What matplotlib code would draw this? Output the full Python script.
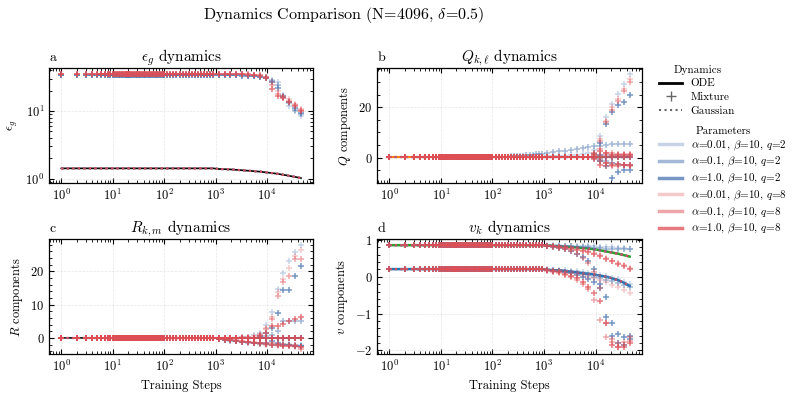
import numpy as np
import matplotlib
matplotlib.use('Agg')
import matplotlib.pyplot as plt
from matplotlib.lines import Line2D
from matplotlib.ticker import AutoMinorLocator

plt.rcParams['font.family'] = 'serif'
plt.rcParams['font.serif'] = ['cmr10']
plt.rcParams['mathtext.fontset'] = 'cm'
plt.rcParams['axes.formatter.use_mathtext'] = True

# training steps where the dynamics were recorded
early_steps = [1, 2, 3, 4, 5, 6, 7, 8, 9, 10, 11, 12, 13, 14, 15, 16, 17, 18, 19, 20,
               21, 22, 24, 26, 28, 30, 32, 34, 37, 40, 43, 46, 50, 54, 58, 63, 68, 74,
               80, 86, 93, 100, 115, 132, 151, 174, 200, 229, 263, 302, 347, 398, 457,
               525, 603, 692, 794, 912]
late_steps = [1150, 1500, 1950, 2540, 3300, 4300, 5600, 7300, 9500, 12400, 16100,
              20900, 27200, 35400, 46000]
steps = early_steps + late_steps


def track(level, late=()):
    # flat part, followed by the values at the last steps
    late = list(late)
    return np.array([level] * (len(steps) - len(late)) + late)


param_labels = [r'$\alpha$=0.01, $\beta$=10, $q$=2', r'$\alpha$=0.1, $\beta$=10, $q$=2',
                r'$\alpha$=1.0, $\beta$=10, $q$=2', r'$\alpha$=0.01, $\beta$=10, $q$=8',
                r'$\alpha$=0.1, $\beta$=10, $q$=8', r'$\alpha$=1.0, $\beta$=10, $q$=8']
param_colors = ['#4873B0'] * 3 + ['#DE4E55'] * 3
param_alphas = [0.3, 0.5, 0.75] * 2

# ---- a: generalisation error
eps_ode = track(1.42, [1.39, 1.38, 1.37, 1.35, 1.33, 1.31, 1.29, 1.27, 1.24, 1.21, 1.18,
                       1.14, 1.10, 1.06, 1.02])
eps_mix = [
    track(34.5, [34.5, 34.4, 34.3, 34.2, 34, 33.8, 33.4, 32.8, 31.5, 29, 27, 17.5, 12, 10, 8.5]),
    track(34.3, [34.3, 34.2, 34.1, 34, 33.8, 33.5, 33.2, 32.5, 31, 28, 24, 16.5, 13, 10.5, 9]),
    track(34.0, [34, 34, 33.9, 33.8, 33.6, 33.3, 33, 32.3, 30.5, 27, 22, 16, 13.5, 11, 9.5]),
    track(36.0, [36, 35.9, 35.8, 35.7, 35.5, 35.2, 34.8, 34, 32, 27, 20, 16.8, 15, 12.7, 10.6]),
    track(35.8, [35.8, 35.7, 35.6, 35.5, 35.3, 35, 34.6, 33.8, 31.5, 24, 18, 16, 14, 12.5, 10.3]),
    track(35.6, [35.6, 35.5, 35.4, 35.3, 35.1, 34.8, 34.4, 33.6, 31, 21, 17, 15.5, 13.5, 12, 10]),
]

# ---- b: Q components (three per parameter set)
q_ode = track(0.3)
q_mix = [
    [track(0.5, [0.6, 0.7, 0.8, 0.9, 1.0, 1.2, 1.5, 2.0, 3.0, 8.7, 16.3, 21.3, 25.3, 29.3, 33.3]),
     track(0.5, [0.8, 1.0, 1.2, 1.2, 1.3, 1.3]),
     track(0.5, [0.3, -1.3, -2.0, -2.0, -2.7, -3.0, -3.0])],
    [track(0.5, [0.6, 0.65, 0.7, 0.8, 0.9, 1.0, 1.1, 1.2, 1.35, 1.5, 1.7, 1.9, 2.2, 2.5,
                 2.8, 3.1, 3.5, 3.9, 4.2, 4.5, 4.8, 5.1, 5.3, 5.4, 5.5, 5.6]),
     track(0.5),
     track(0.5, [0.2, -0.3, -1.3, -2.0, -2.5, -2.7, -3.0])],
    [track(0.5, [1.5, 6.0, 13.3, 18.0, 20.7, 22.0, 24.7]),
     track(0.5, [1.0, 0.5, 0.5, 0.4, 0.3, 0.3]),
     track(0.5, [0.0, -1.3, -3.3, -8.0, -5.7, -4.7, -5.0])],
    [track(0.5, [2.0, 7.3, 14.7, 20.0, 23.3, 27.3, 31.3]),
     track(0.5, [1.3, 1.3, 1.3, 1.3, 1.3, 1.3]),
     track(0.5, [-0.5, -2.0, -2.0, -2.7, -2.7, -3.0])],
    [track(0.5, [1.8, 6.5, 14.0, 19.0, 22.5, 26.5, 30.0]),
     track(0.5, [1.0, 3.3, 2.0, 1.8, 1.6, 1.5, 1.5]),
     track(0.5, [-1.3, -3.3, -3.3, -3.3, -3.0, -3.3])],
    [track(0.5, [1.0, 2.5, 2.0, 1.3, 1.3, 1.3, 1.3]),
     track(0.5),
     track(0.5, [-0.5, -2.7, -2.0, -2.7, -2.5, -2.8, -3.0])],
]

# ---- c: R components (three per parameter set)
r_ode = track(0.0)
r_mix = [
    [track(0.1, [0, 0, 0, 0.1, 0.2, 0.4, 0.8, 1.5, 3.8, 7.7, 14.6, 19.6, 23.0, 25.7, 28.0]),
     track(0.1, [-0.3, -0.5, -0.7, -0.9, -1.1, -1.3, -1.5, -1.6, -1.7, -1.8, -1.8, -1.9, -1.9, -2.0, -2.0]),
     track(0.1, [0.0, 0.0, 0.0])],
    [track(0.1, [0.2, 0.5, 1.0, 2.0, 5.2, 5.2, 5.0, 5.2]),
     track(0.1, [-0.4, -0.6, -0.8, -1.0, -1.2, -1.4, -1.6, -1.8, -1.9, -2.0, -2.1, -2.2, -2.2, -2.3, -2.4]),
     track(0.1)],
    [track(0.1, [0.5, 1.5, 3.0, 7.5, 14.5, 14.5, 18.6, 21.6]),
     track(0.1, [-0.3, -0.5, -0.7, -0.9, -1.1, -1.3, -1.5, -1.6, -1.5, -1.0, -1.5, -2.0, -2.2, -2.3, -2.5]),
     track(0.1, [0.0, 0.0])],
    [track(0.1, [0, 0, 0, 0.1, 0.2, 0.3, 0.6, 1.2, 3.0, 6.2, 13.7, 17.6, 21.0, 24.5, 26.5]),
     track(0.1, [-0.2, -0.4, -0.6, -0.8, -1.0, -1.2, -1.4, -1.7, -2.0, -2.2, -2.3, -2.4, -2.5, -2.6, -2.7]),
     track(0.1)],
    [track(0.1, [1.0, 2.8, 5.7, 12.5, 16.8, 18.6, 23.6, 23.8]),
     track(0.1, [-0.2, -0.3, -0.5, -0.7, -0.9, -1.1, -1.3, -1.5, -1.5, -1.6, -1.7, -1.8, -2.0, -2.2, -3.2]),
     track(0.1, [0.0, 0.0, 0.0])],
    [track(0.1, [0.5, 1.5, 3.6, 3.6, 4.3, 5.0, 5.7, 6.2]),
     track(0.1, [-0.3, -0.5, -0.7, -0.9, -1.1, -1.2, -1.4, -1.6, -1.8, -2.0, -2.1, -2.3, -2.4, -2.5, -2.8]),
     track(0.1)],
]

# ---- d: v components (two per parameter set)
v1_ode = track(0.86, [0.85, 0.84, 0.83, 0.82, 0.81, 0.80, 0.785, 0.77, 0.75, 0.72, 0.69,
                      0.66, 0.63, 0.59, 0.55])
v2_ode = track(0.21, [0.19, 0.18, 0.17, 0.16, 0.14, 0.12, 0.10, 0.08, 0.06, 0.03, 0.0,
                      -0.04, -0.09, -0.16, -0.25])
v_mix = [
    [track(0.86, [0.86, 0.86, 0.86, 0.85, 0.85, 0.85, 0.84, 0.84, 0.83, 0.82, 0.81, 0.80, 0.79, 0.78, 0.77]),
     track(0.21, [0.20, 0.19, 0.19, 0.18, 0.17, 0.15, 0.13, 0.11, 0.08, 0.05, 0.02, -0.02, -0.07, -0.13, -0.20])],
    [track(0.86, [0.85, 0.85, 0.84, 0.84, 0.83, 0.82, 0.81, 0.80, 0.79, 0.78, 0.77, 0.76, 0.76, 0.75, 0.75]),
     track(0.21, [0.19, 0.18, 0.16, 0.14, 0.12, 0.10, 0.07, 0.04, 0.0, -0.04, -0.08, -0.12, -0.17, -0.22, -0.28])],
    [track(0.86, [0.84, 0.82, 0.79, 0.75, 0.70, 0.63, 0.54, 0.42, 0.20, -0.20, -1.10, -1.60, -1.80, -1.85, -1.70]),
     track(0.21, [0.19, 0.17, 0.15, 0.12, 0.09, 0.05, 0.0, -0.06, -0.15, -0.30, -0.56, -1.27, -1.55, -1.64, -1.60])],
    [track(0.86, [0.84, 0.83, 0.82, 0.80, 0.78, 0.76, 0.73, 0.69, 0.65, 0.59, 0.51, 0.44, 0.38, 0.33, 0.25]),
     track(0.21, [0.19, 0.17, 0.15, 0.13, 0.10, 0.07, 0.04, 0.0, -0.04, -0.09, -0.15, -0.22, -0.28, -0.35, -0.45])],
    [track(0.86, [0.84, 0.82, 0.79, 0.75, 0.70, 0.62, 0.50, 0.38, 0.12, -0.30, -1.25, -1.70, -1.80, -1.85, -1.75]),
     track(0.21, [0.17, 0.14, 0.10, 0.05, -0.01, -0.09, -0.20, -0.33, -0.62, -1.18, -1.64, -1.77, -1.90, -1.77, -1.64])],
    [track(0.86, [0.84, 0.83, 0.81, 0.79, 0.77, 0.74, 0.71, 0.67, 0.62, 0.56, 0.49, 0.42, 0.36, 0.30, 0.22]),
     track(0.21, [0.18, 0.15, 0.12, 0.08, 0.03, -0.04, -0.13, -0.27, -0.45, -0.66, -1.25, -1.85, -1.92, -1.90, -1.80])],
]


def style(ax, log_y=False):
    ax.set_xscale('log')
    if log_y:
        ax.set_yscale('log')
    else:
        ax.yaxis.set_minor_locator(AutoMinorLocator())
    ax.tick_params(which='both', direction='in', top=True, right=True, labelsize=9)
    ax.tick_params(which='major', length=3.5, width=0.8)
    ax.tick_params(which='minor', length=2, width=0.6)
    ax.grid(True, which='major', ls='--', lw=0.5, color='0.8', alpha=0.5)
    for s in ax.spines.values():
        s.set_linewidth(0.9)


def mixture(ax, vals, i):
    ax.plot(steps, vals, '+', ls='none', color=param_colors[i], alpha=param_alphas[i],
            ms=4.5, mew=1.1, zorder=3)


def gaussian(ax, vals, i):
    ax.plot(steps, vals, ':', color=param_colors[i], alpha=param_alphas[i], lw=1.5, zorder=2)


fig = plt.figure(figsize=(7.93, 3.97), dpi=100)
ax_a = fig.add_axes([0.0622, 0.5383, 0.3325, 0.2897])
ax_b = fig.add_axes([0.4758, 0.5383, 0.3334, 0.2897])
ax_c = fig.add_axes([0.0622, 0.1083, 0.3325, 0.2889])
ax_d = fig.add_axes([0.4758, 0.1083, 0.3334, 0.2889])

# a
ax_a.plot(steps, eps_ode, color='k', lw=1.2, zorder=1)
for i in range(6):
    gaussian(ax_a, eps_ode, i)
    mixture(ax_a, eps_mix[i], i)
style(ax_a, log_y=True)
ax_a.set_ylabel(r'$\epsilon_g$', fontsize=9)
ax_a.set_title(r'$\epsilon_g$ dynamics', fontsize=11, pad=5)

# b
ax_b.plot(steps, q_ode, color='tab:orange', lw=1.5, zorder=1)
for i in range(6):
    gaussian(ax_b, q_ode, i)
    for comp in q_mix[i]:
        mixture(ax_b, comp, i)
style(ax_b)
ax_b.set_ylabel(r'$Q$ components', fontsize=9)
ax_b.set_title(r'$Q_{k,\ell}$ dynamics', fontsize=11, pad=5)

# c
ax_c.plot(steps, r_ode, color='k', lw=1.2, zorder=1)
for i in range(6):
    gaussian(ax_c, r_ode, i)
    for comp in r_mix[i]:
        mixture(ax_c, comp, i)
style(ax_c)
ax_c.set_ylabel(r'$R$ components', fontsize=9)
ax_c.set_xlabel('Training Steps', fontsize=9)
ax_c.set_title(r'$R_{k,m}$ dynamics', fontsize=11, pad=5)

# d
ax_d.plot(steps, v1_ode, color='tab:green', lw=1.8, zorder=1)
ax_d.plot(steps, v2_ode, color='tab:blue', lw=1.8, zorder=1)
for i in range(6):
    gaussian(ax_d, v1_ode, i)
    gaussian(ax_d, v2_ode, i)
    for comp in v_mix[i]:
        mixture(ax_d, comp, i)
style(ax_d)
ax_d.set_ylim(-2.1, 1.02)
ax_d.set_ylabel(r'$v$ components', fontsize=9)
ax_d.set_xlabel('Training Steps', fontsize=9)
ax_d.set_title(r'$v_k$ dynamics', fontsize=11, pad=5)

for ax, letter in zip([ax_a, ax_b, ax_c, ax_d], 'abcd'):
    ax.set_title(letter, loc='left', fontsize=10, pad=5)

fig.text(0.433, 0.962, r'Dynamics Comparison (N=4096, $\delta$=0.5)', ha='center',
         va='center', fontsize=11.5)

dyn_handles = [Line2D([], [], color='k', lw=2, label='ODE'),
               Line2D([], [], color='0.4', marker='+', ls='none', ms=7, mew=1, label='Mixture'),
               Line2D([], [], color='0.4', ls=':', lw=1.5, label='Gaussian')]
par_handles = [Line2D([], [], color=param_colors[i], alpha=param_alphas[i], lw=2.5,
                      label=param_labels[i]) for i in range(6)]

fig.legend(handles=dyn_handles, title='Dynamics', loc='upper left',
           bbox_to_anchor=(0.826, 0.848), frameon=False, fontsize=8, title_fontsize=8,
           labelspacing=0.35, handlelength=2.0, borderaxespad=0)
fig.legend(handles=par_handles, title='Parameters', loc='upper left',
           bbox_to_anchor=(0.826, 0.693), frameon=False, fontsize=8, title_fontsize=8,
           labelspacing=0.22, handlelength=2.0, borderaxespad=0)

fig.savefig('out.png', dpi=100)
